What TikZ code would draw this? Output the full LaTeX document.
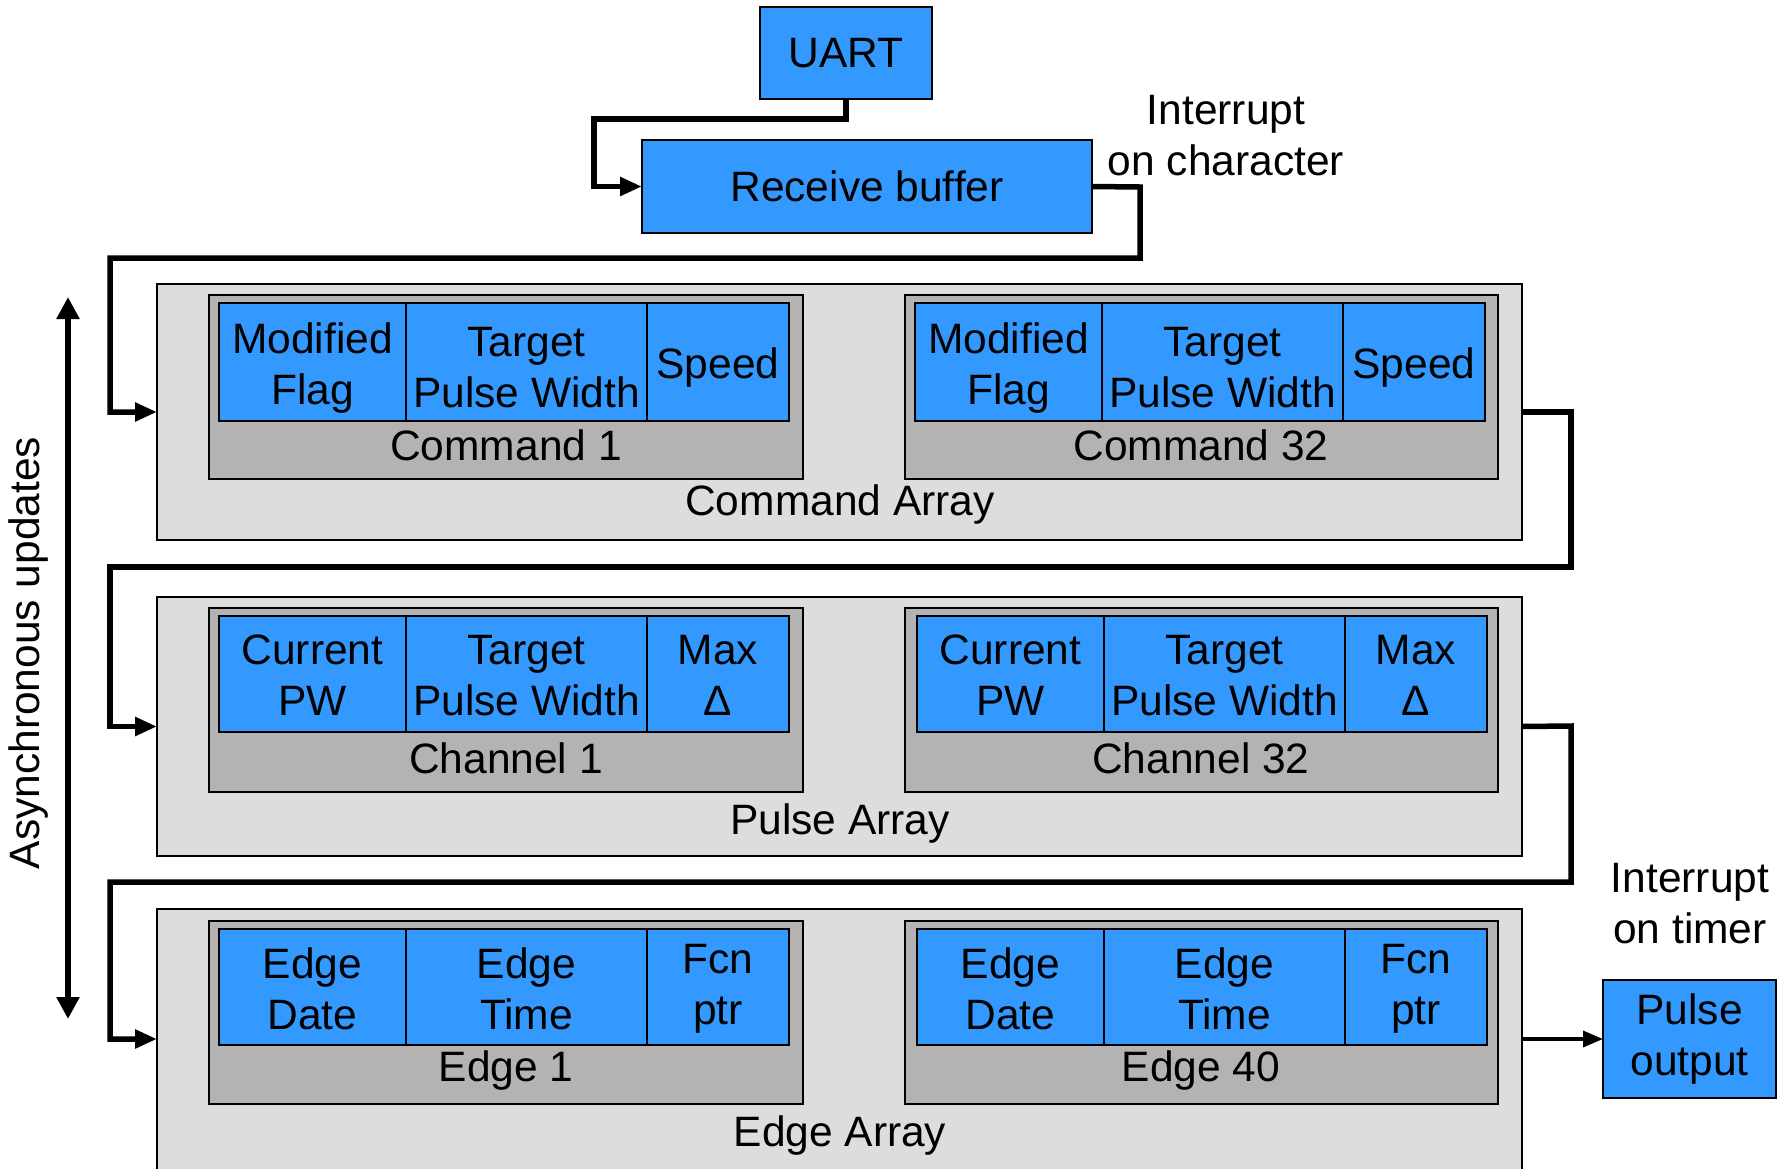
\documentclass[tikz,border=0pt]{standalone}
\usepackage{fontspec}
\setmainfont{Liberation Sans}
\usetikzlibrary{fit,arrows.meta}
\definecolor{cellblue}{HTML}{3399FF}
\definecolor{outergray}{HTML}{DDDDDD}
\definecolor{innergray}{HTML}{B3B3B3}
\newcommand\dfont{\fontsize{21.25pt}{25.5pt}\selectfont}
\newcommand\celldy{0pt}
\newcommand\cellrow[7]{%
  \node[cell, fit={(#2,#3) ({#2+187},#4)}] (#1a) {};
  \node[cell, fit={({#2+187},#3) ({#2+428},#4)}] (#1b) {};
  \node[cell, fit={({#2+428},#3) ({#2+570},#4)}] (#1c) {};
  \node[lbl] (#1at) at ([yshift=\celldy]#1a.center) {#5};
  \node[lbl] (#1bt) at ([yshift=\celldy]#1b.center) {#6};
  \node[lbl] (#1ct) at ([yshift=\celldy]#1c.center) {#7};
}
\begin{document}
\begin{tikzpicture}[x=0.5pt, y=-0.5pt,
  box/.style={draw=black, line width=1.1pt, inner sep=0pt, outer sep=0pt},
  cell/.style={box, fill=cellblue},
  outerbox/.style={box, fill=outergray},
  innerbox/.style={box, fill=innergray},
  lbl/.style={font=\dfont, inner sep=0pt, align=center},
  conn/.style={line width=2.75pt, line join=miter, -{Triangle[length=11pt,width=9pt]}},
  thinconn/.style={line width=1.75pt, -{Triangle[length=10pt,width=8pt]}}]
\path[use as bounding box, fill=white] (0,0) rectangle (1789,1168);

% top blocks
\node[cell, fit={(760,7) (932,99)}] (uart) {};
\node[lbl] (uartt) at (uart.center) {UART};
\node[cell, fit={(642,140) (1092,233)}] (rb) {};
\node[lbl] (rbt) at (rb.center) {Receive buffer};
\node[lbl] (intc) at (1226,136) {Interrupt\\on character};

% Command array
\node[outerbox, fit={(157,284) (1522,540)}] (cmdarr) {};
\node[innerbox, fit={(209,295) (803,479)}] (cmd1) {};
\node[innerbox, fit={(905,295) (1498,479)}] (cmd32) {};
\renewcommand\celldy{-3pt}
\cellrow{c1}{219}{303}{421}{Modified\\Flag}{Target\\Pulse Width}{Speed}
\cellrow{c32}{915}{303}{421}{Modified\\Flag}{Target\\Pulse Width}{Speed}
\renewcommand\celldy{-0.7pt}
\node[lbl] (cmd1l) at (506,445) {Command 1};
\node[lbl] (cmd32l) at (1201,445) {Command 32};
\node[lbl] (cmdarrl) at (840,505) {Command Array};

% Pulse array
\node[outerbox, fit={(157,597) (1522,856)}] (pularr) {};
\node[innerbox, fit={(209,608) (803,792)}] (ch1) {};
\node[innerbox, fit={(905,608) (1498,792)}] (ch32) {};
\cellrow{p1}{219}{616}{732}{Current\\PW}{Target\\Pulse Width}{Max\\Δ}
\cellrow{p32}{917}{616}{732}{Current\\PW}{Target\\Pulse Width}{Max\\Δ}
\node[lbl] (ch1l) at (506,758) {Channel 1};
\node[lbl] (ch32l) at (1201,758) {Channel 32};
\node[lbl] (pularrl) at (840,823) {Pulse Array};

% Edge array
\node[outerbox, fit={(157,909) (1522,1172)}] (edgarr) {};
\node[innerbox, fit={(209,921) (803,1104)}] (e1) {};
\node[innerbox, fit={(905,921) (1498,1104)}] (e40) {};
\cellrow{e1}{219}{929}{1045}{Edge\\Date}{Edge\\Time}{Fcn\\ptr}
\cellrow{e40}{917}{929}{1045}{Edge\\Date}{Edge\\Time}{Fcn\\ptr}
\node[lbl] (e1l) at (506,1070) {Edge 1};
\node[lbl] (e40l) at (1201,1070) {Edge 40};
\node[lbl] (edgarrl) at (840,1135) {Edge Array};

% Pulse output
\node[cell, fit={(1603,980) (1776,1098)}] (po) {};
\node[lbl] (pot) at (po.center) {Pulse\\output};
\node[lbl] (intt) at (1690,904) {Interrupt\\on timer};

% connectors
\draw[conn] (uart.south) -- (uart.south |- 0,119) -- (594,119) |- (rb.west);
\draw[conn] (rb.east) -- (1140,187) -- (1140,258) -- (110,258) |- (cmdarr.west);
\draw[conn] (cmdarr.east) -- (1571,412) -- (1571,567) -- (110,567) |- (pularr.west);
\draw[conn] (pularr.east) -- (1571,726) -- (1571,882) -- (110,882) |- (edgarr.west |- po.west);
\draw[thinconn] (edgarr.east |- po.west) -- (po.west);

% asynchronous updates
\coordinate (atop) at (68,297);
\coordinate (abot) at (68,1019);
\draw[line width=2.75pt, {Triangle[length=11pt,width=11pt]}-{Triangle[length=11pt,width=11pt]}] (atop) -- (abot);
\node[lbl, rotate=90] (async) at (29,653) {Asynchronous updates};
\end{tikzpicture}
\end{document}
